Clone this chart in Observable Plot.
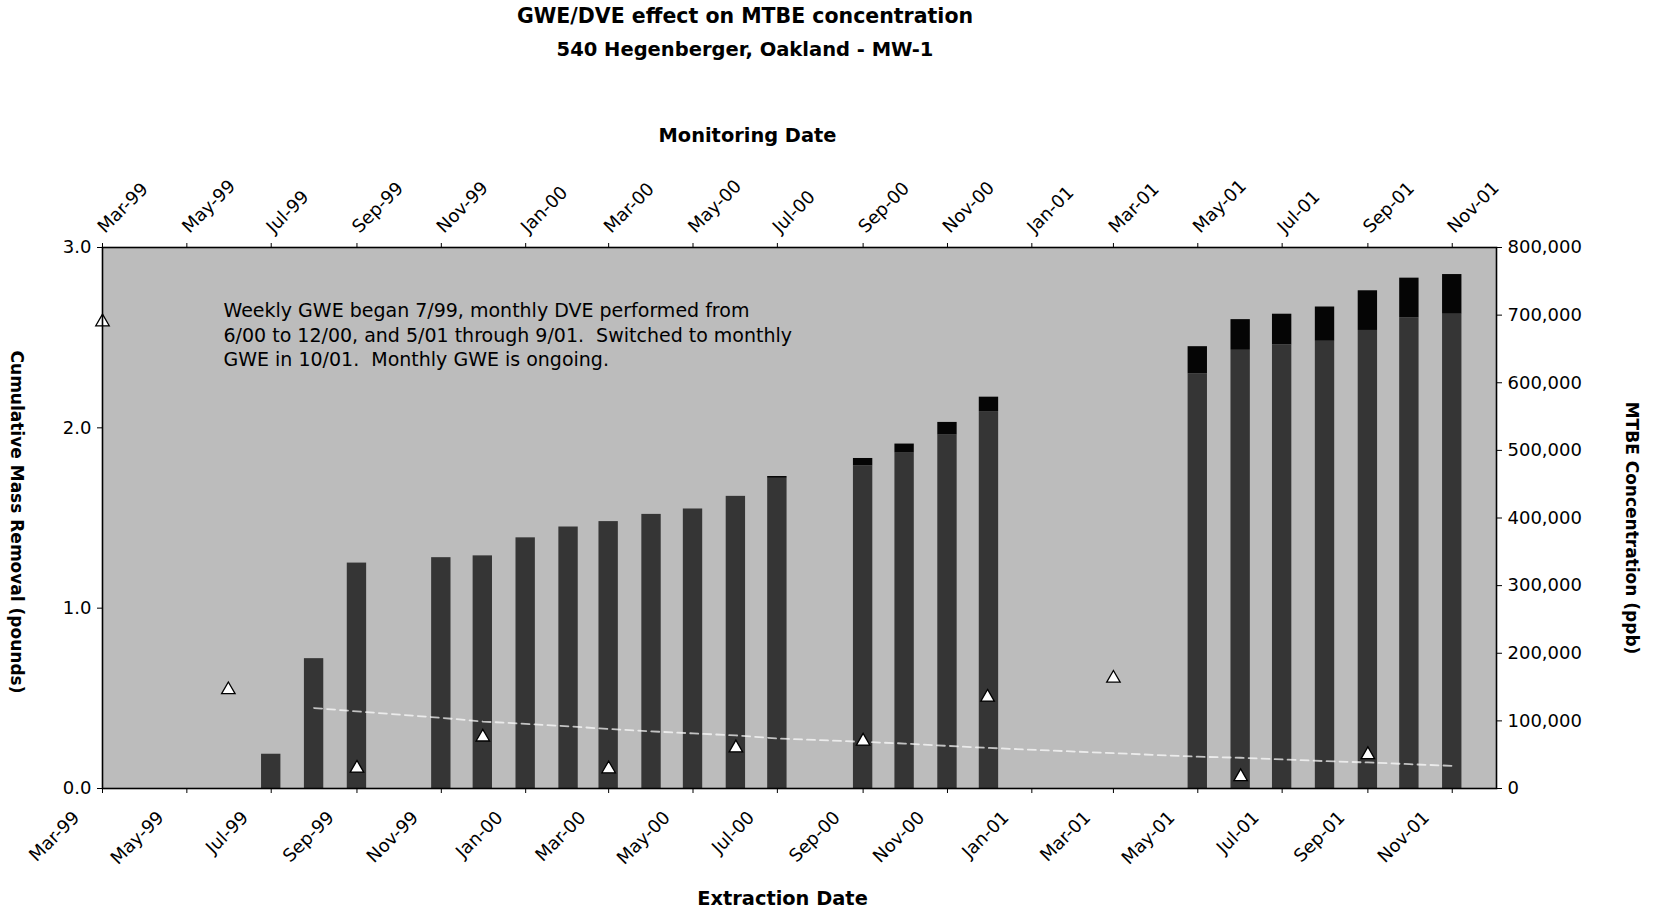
<!DOCTYPE html>
<html><head><meta charset="utf-8">
<script src="https://cdn.jsdelivr.net/npm/d3@7"></script>
<script src="https://cdn.jsdelivr.net/npm/@observablehq/plot@0.6"></script>
<style>
html,body{margin:0;padding:0;background:#fff;overflow:hidden;}
#header{position:relative;width:1655px;height:70px;font-family:"DejaVu Sans";font-weight:bold;color:#000;}
#header div{position:absolute;left:345px;width:800px;text-align:center;line-height:24px;white-space:nowrap;}
</style></head><body>
<div id="header"><div style="top:4px;font-size:20.5px">GWE/DVE effect on MTBE concentration</div><div style="top:38px;font-size:19.5px">540 Hegenberger, Oakland - MW-1</div></div>
<div id="chart"></div>
<script>
// ---- data ----
const tickLabels = ["Mar-99","May-99","Jul-99","Sep-99","Nov-99","Jan-00","Mar-00","May-00","Jul-00","Sep-00","Nov-00","Jan-01","Mar-01","May-01","Jul-01","Sep-01","Nov-01"];
const xDomain = ["1999-03-01","2001-12-03"];
const leftTicks = [0, 1, 2, 3];
const rightTicks = [0,100000,200000,300000,400000,500000,600000,700000,800000];
const rightMax = 800000, leftMax = 3;

const barMonths = ["1999-07-01","1999-08-01","1999-09-01","1999-11-01","1999-12-01","2000-01-01","2000-02-01","2000-03-01","2000-04-01","2000-05-01","2000-06-01","2000-07-01","2000-09-01","2000-10-01","2000-11-01","2000-12-01","2001-05-01","2001-06-01","2001-07-01","2001-08-01","2001-09-01","2001-10-01","2001-11-01"];
const gweMass = [0.19,0.72,1.25,1.28,1.29,1.39,1.45,1.48,1.52,1.55,1.62,1.72,1.79,1.86,1.96,2.09,2.30,2.43,2.46,2.48,2.54,2.61,2.63];
const dveMass = [0,0,0,0,0,0,0,0,0,0,0,0.01,0.04,0.05,0.07,0.08,0.15,0.17,0.17,0.19,0.22,0.22,0.22];

const monitorDates = ["1999-03-01","1999-05-31","1999-09-01","1999-12-01","2000-03-01","2000-06-01","2000-09-01","2000-11-30","2001-03-01","2001-06-01","2001-09-01"];
const mtbePpb = [690000,146000,30000,76000,29000,60000,70000,135000,163000,17500,50000];

const trendDates = ["1999-08-01","1999-09-01","1999-11-01","1999-12-01","2000-01-01","2000-02-01","2000-03-01","2000-04-01","2000-05-01","2000-06-01","2000-07-01","2000-09-01","2000-10-01","2000-11-01","2000-12-01","2001-05-01","2001-06-01","2001-07-01","2001-08-01","2001-09-01","2001-10-01","2001-11-01"];
const trendPpb = [119000,114000,104500,99000,95500,92000,88000,84500,81500,78500,74000,69000,66500,63000,60000,47000,45500,43000,40500,38500,36000,33500];

const annotationLines = ["Weekly GWE began 7/99, monthly DVE performed from","6/00 to 12/00, and 5/01 through 9/01.  Switched to monthly","GWE in 10/01.  Monthly GWE is ongoing."];

// ---- build tables ----
const parseMon = d3.utcParse("%b-%y");
const tickDates = tickLabels.map(parseMon);
const P = d3.utcParse("%Y-%m-%d");
const toY = v => v * leftMax / rightMax;
const bars = barMonths.map((d, i) => ({date: P(d), gwe: gweMass[i], dve: dveMass[i]}));
const mon = monitorDates.map((d, i) => ({date: P(d), y: toY(mtbePpb[i])}));
const trend = trendDates.map((d, i) => ({date: P(d), y: toY(trendPpb[i])}));
const half = 7; // bar half-width in days
const fmtR = d3.format(",");

const chart = Plot.plot({
  width: 1655, height: 842,
  marginTop: 177, marginBottom: 124, marginLeft: 102, marginRight: 159,
  style: {fontFamily: "DejaVu Sans", fontSize: "18px", color: "black", background: "white", overflow: "visible"},
  x: {type: "utc", domain: xDomain.map(P)},
  y: {domain: [0, leftMax]},
  marks: [
    Plot.frame({fill: "#bcbcbc"}),
    Plot.rect(bars, {x1: d => d3.utcDay.offset(d.date, -half), x2: d => d3.utcDay.offset(d.date, half), y1: 0, y2: "gwe", fill: "#353535"}),
    Plot.rect(bars.filter(d => d.dve > 0), {x1: d => d3.utcDay.offset(d.date, -half), x2: d => d3.utcDay.offset(d.date, half), y1: "gwe", y2: d => d.gwe + d.dve, fill: "#050505"}),
    Plot.line(trend, {x: "date", y: "y", stroke: "white", strokeWidth: 1.8, strokeDasharray: "8,5", strokeOpacity: 0.7}),
    Plot.dot(mon, {x: "date", y: "y", symbol: "triangle", r: 5, fill: "white", stroke: "black", strokeWidth: 1.3}),
    Plot.frame({stroke: "black", strokeWidth: 1.6}),
    Plot.axisY({anchor: "left", ticks: leftTicks, tickFormat: d3.format(".1f"), tickSize: 5, tickPadding: 6, label: null}),
    Plot.axisY({anchor: "right", ticks: rightTicks.map(toY), tickFormat: d => fmtR(Math.round(d * rightMax / leftMax)), tickSize: 5, tickPadding: 6, label: null}),
    Plot.axisX({anchor: "bottom", ticks: tickDates, tickSize: 5, fill: "none"}),
    Plot.axisX({anchor: "top", ticks: tickDates, tickSize: 5, fill: "none"}),
    Plot.text(tickDates, {x: d => d, text: (d, i) => tickLabels[i], frameAnchor: "bottom", rotate: -45, textAnchor: "end", lineAnchor: "middle", dx: -26, dy: 26, fontSize: 18, fill: "black"}),
    Plot.text(tickDates, {x: d => d, text: (d, i) => tickLabels[i], frameAnchor: "top", rotate: -45, textAnchor: "start", lineAnchor: "middle", dx: -1.5, dy: -17.5, fontSize: 18, fill: "black"}),
    Plot.text([annotationLines.join("\n")], {frameAnchor: "top-left", text: d => d, textAnchor: "start", lineAnchor: "top", dx: 121, dy: 52, lineHeight: 1.3, fontSize: 19, fill: "black"}),
    Plot.text(["Monitoring Date"], {frameAnchor: "top", text: d => d, textAnchor: "middle", lineAnchor: "middle", dx: -52, dy: -112, fontSize: 19.4, fontWeight: "bold", fill: "black"}),
    Plot.text(["Extraction Date"], {frameAnchor: "bottom", text: d => d, textAnchor: "middle", lineAnchor: "middle", dx: -17, dy: 110, fontSize: 19.4, fontWeight: "bold", fill: "black"}),
    Plot.text(["Cumulative Mass Removal (pounds)"], {frameAnchor: "left", text: d => d, rotate: 90, textAnchor: "middle", lineAnchor: "middle", dx: -86, dy: 4, fontSize: 17, fontWeight: "bold", fill: "black"}),
    Plot.text(["MTBE Concentration (ppb)"], {frameAnchor: "right", text: d => d, rotate: 90, textAnchor: "middle", lineAnchor: "middle", dx: 135, dy: 10, fontSize: 17, fontWeight: "bold", fill: "black"})
  ]
});
document.getElementById("chart").appendChild(chart);
</script>
</body></html>
